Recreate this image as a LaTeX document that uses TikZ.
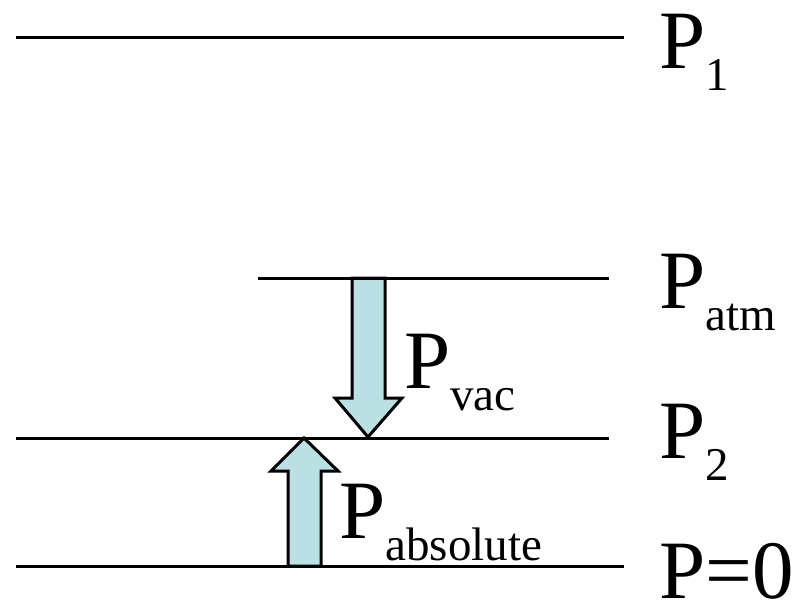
\documentclass[tikz,border=0pt]{standalone}
\usepackage{fontspec}
\setmainfont{Liberation Serif}
\definecolor{bbdfe2}{rgb}{0.73,0.88,0.89}
\newcommand{\bigP}[1]{\fontsize{83}{83}\selectfont P\raisebox{-22pt}{\fontsize{47}{47}\selectfont #1}}

\begin{document}
\begin{tikzpicture}[line cap=butt,line join=miter,x=1pt,y=-1pt]
\useasboundingbox (0,0) rectangle (801,607);
% block arrows
\draw [line width=3pt,fill=bbdfe2] (352,278) -- (385,278) -- (385,398) -- (402,398) -- (368,437) -- (335,398) -- (352,398) -- cycle;
\draw [line width=3pt,fill=bbdfe2] (288,566) -- (321,566) -- (321,471) -- (338,471) -- (304,438) -- (271,471) -- (288,471) -- cycle;
% pressure levels
\draw [line width=3pt] (16,38) -- (624,38);
\draw [line width=3pt] (258,278) -- (609,278);
\draw [line width=3pt] (16,438) -- (609,438);
\draw [line width=3pt] (16,566) -- (624,566);
% labels
\node[anchor=base west,inner sep=0pt] (p1) at (659,69) {\bigP{1}};
\node[anchor=base west,inner sep=0pt] (patm) at (659,308) {\bigP{atm}};
\node[anchor=base west,inner sep=0pt] (p2) at (659,458) {\bigP{2}};
\node[anchor=base west,inner sep=0pt] (p0) at (659,598) {\fontsize{83}{83}\selectfont P=0};
\node[anchor=base west,inner sep=0pt] (pvac) at (404,388) {\bigP{vac}};
\node[anchor=base west,inner sep=0pt] (pabs) at (339,538) {\bigP{absolute}};
\end{tikzpicture}
\end{document}
